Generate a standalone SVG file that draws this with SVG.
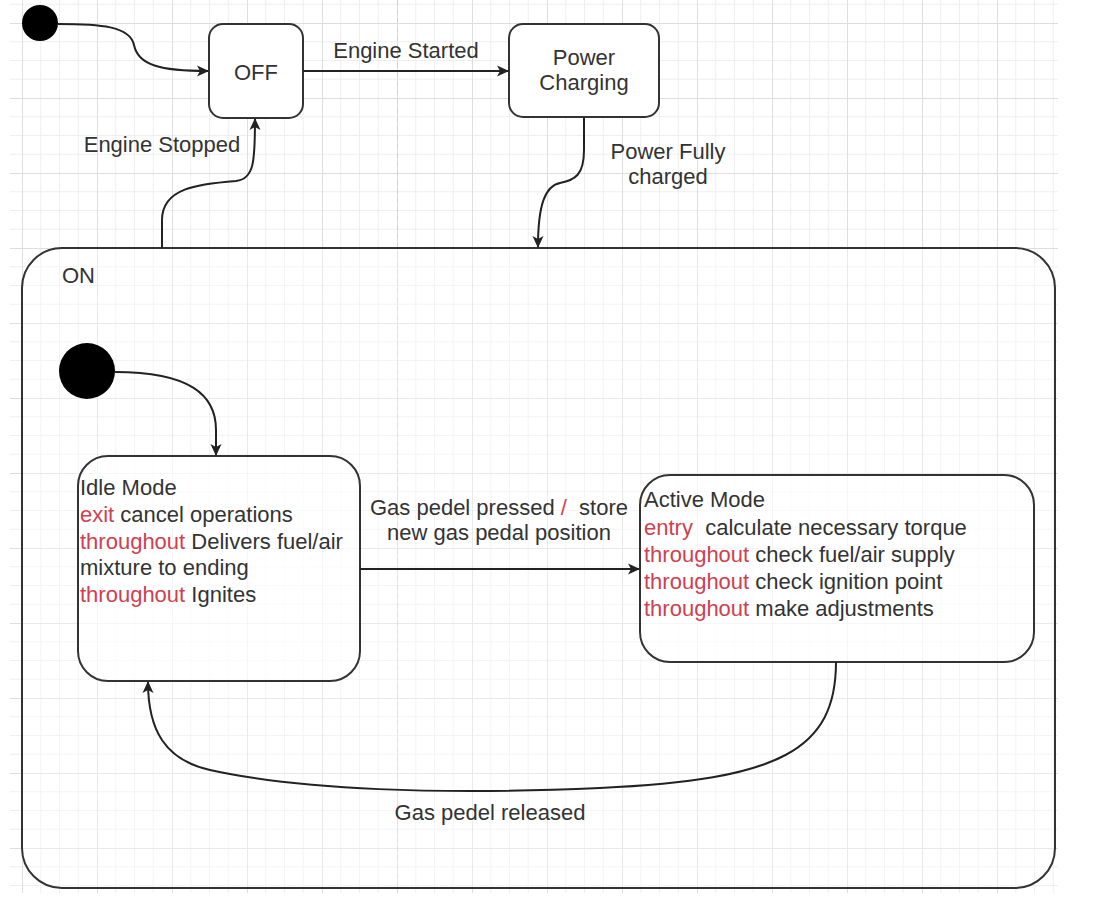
<svg xmlns="http://www.w3.org/2000/svg" width="1095" height="905" viewBox="0 0 1095 905">
<defs>
<pattern id="grid" patternUnits="userSpaceOnUse" x="22" y="23" width="75" height="75">
<path d="M18.75,0V75M37.5,0V75M56.25,0V75M0,18.75H75M0,37.5H75M0,56.25H75" stroke="#efefef" stroke-width="1" fill="none"/>
<path d="M0.5,0V75M0,0.5H75" stroke="#dedede" stroke-width="1" fill="none"/>
</pattern>
<marker id="arr" viewBox="0 0 12 12" refX="11" refY="6" markerWidth="12" markerHeight="12" markerUnits="userSpaceOnUse" orient="auto">
<path d="M0,0.5 L12,6 L0,11.5 L3,6 Z" fill="#222"/>
</marker>
<style>
text{font-family:"Liberation Sans",Arial,sans-serif;font-size:22px;fill:#333}
.st{fill:#ffffff;stroke:#333;stroke-width:2}
.cn{fill:none;stroke:#222;stroke-width:2;marker-end:url(#arr)}
.k{fill:#d04050}
.c{text-anchor:middle}
</style>
</defs>
<rect x="0" y="0" width="1095" height="905" fill="#ffffff"/>
<rect x="10" y="0" width="1048" height="893" fill="url(#grid)"/>
<line x1="397.5" y1="0" x2="397.5" y2="893" stroke="#d2d2d2" stroke-dasharray="5 4"/>

<g id="on">
<rect class="st" x="22" y="248" width="1033" height="640" rx="40" fill-opacity="0.35"/>
<text x="62" y="283">ON</text>
</g>
<g id="init-top"><circle cx="40" cy="23" r="18" fill="#000"/></g>
<g id="off">
<rect class="st" x="209" y="24" width="94" height="94" rx="14"/>
<text class="c" x="256" y="80">OFF</text>
</g>
<g id="power-charging">
<rect class="st" x="509" y="24" width="150" height="93" rx="14"/>
<text class="c" x="584" y="65">Power</text>
<text class="c" x="584" y="90">Charging</text>
</g>
<g id="init-on"><circle cx="87" cy="371" r="28" fill="#000"/></g>
<g id="idle">
<rect class="st" x="78" y="456" width="282" height="225" rx="30" fill-opacity="0.6"/>
<text x="80" y="495">Idle Mode</text>
<text x="80" y="522"><tspan class="k">exit</tspan> cancel operations</text>
<text x="80" y="549"><tspan class="k">throughout</tspan> Delivers fuel/air</text>
<text x="80" y="575">mixture to ending</text>
<text x="80" y="602"><tspan class="k">throughout</tspan> Ignites</text>
</g>
<g id="active">
<rect class="st" x="640" y="475" width="394" height="187" rx="30" fill-opacity="0.6"/>
<text x="644" y="507">Active Mode</text>
<text x="644" y="535" xml:space="preserve"><tspan class="k">entry</tspan>  calculate necessary torque</text>
<text x="644" y="562"><tspan class="k">throughout</tspan> check fuel/air supply</text>
<text x="644" y="589"><tspan class="k">throughout</tspan> check ignition point</text>
<text x="644" y="616"><tspan class="k">throughout</tspan> make adjustments</text>
</g>

<g id="connectors">
<path class="cn" d="M58,24 C100,24 130,26 134,45 C138,65 160,71 208,71"/>
<path class="cn" d="M303,71 L508,71"/>
<path class="cn" d="M162,248 L162,220 C162,188 198,184 236,181 C254,179 255,162 255,119"/>
<path class="cn" d="M584,117 L584,150 C584,175 575,180 560,183 C545,186 538,205 538,247"/>
<path class="cn" d="M115,372 C190,372 216,395 216,430 L216,455"/>
<path class="cn" d="M360,569 L639,569"/>
<path class="cn" d="M836,662 C836,750 780,780 600,788 C440,795 300,790 210,770 C165,760 148,730 148,682"/>
<text class="c" x="406" y="58">Engine Started</text>
<text class="c" x="162" y="152">Engine Stopped</text>
<text class="c" x="668" y="159">Power Fully</text>
<text class="c" x="668" y="184">charged</text>
<text class="c" x="499" y="515" xml:space="preserve">Gas pedel pressed <tspan class="k">/</tspan>  store</text>
<text class="c" x="499" y="540">new gas pedal position</text>
<text class="c" x="490" y="820">Gas pedel released</text>
</g>
</svg>
